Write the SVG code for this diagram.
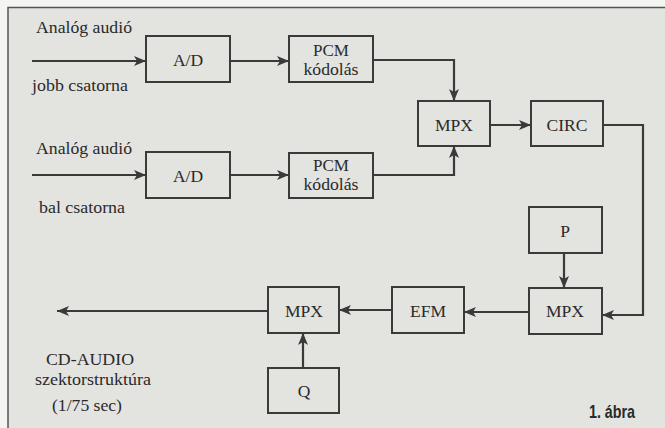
<svg xmlns="http://www.w3.org/2000/svg" width="665" height="428" viewBox="0 0 665 428">
<defs>
<marker id="ah" viewBox="0 0 12 10" refX="12" refY="5" markerWidth="12" markerHeight="10" markerUnits="userSpaceOnUse" orient="auto">
<path d="M0,0 L12,5 L0,10 L3,5 Z" fill="#3a3a3a"/>
</marker>
<style>
.bx{fill:none;stroke:#3a3a3a;stroke-width:2}
.ln{fill:none;stroke:#3a3a3a;stroke-width:2.2;marker-end:url(#ah)}
.t{font-family:"Liberation Serif","Times New Roman","DejaVu Serif",serif;font-size:17.5px;fill:#2a2a2a;text-anchor:middle}
.s{font-size:17px}
.cap{font-family:"Liberation Sans Narrow","Liberation Sans",Arial,sans-serif;font-weight:bold;font-size:18.5px;fill:#2a2a2a;text-anchor:middle}
</style>
</defs>
<rect x="0" y="0" width="665" height="428" fill="#f4f4f2"/>
<rect x="8" y="8" width="660" height="425" fill="#e3e3df"/>
<path d="M8,428 L8,7.5 L665,7.5" fill="none" stroke="#555" stroke-width="1.5"/>

<g id="lbl-in1" class="t">
<text x="84" y="33" textLength="96" lengthAdjust="spacingAndGlyphs">Analóg audió</text>
<text x="80" y="91" textLength="96" lengthAdjust="spacingAndGlyphs">jobb csatorna</text>
</g>
<g id="lbl-in2" class="t">
<text x="84" y="154" textLength="96" lengthAdjust="spacingAndGlyphs">Analóg audió</text>
<text x="82" y="213" textLength="86" lengthAdjust="spacingAndGlyphs">bal csatorna</text>
</g>
<g id="ad1" class="t"><rect class="bx" x="146" y="36" width="84" height="46"/><text x="188" y="66">A/D</text></g>
<g id="ad2" class="t"><rect class="bx" x="146" y="152" width="84" height="46"/><text x="188" y="182">A/D</text></g>
<g id="pcm1" class="t s"><rect class="bx" x="289" y="36" width="84" height="46"/><text x="331" y="56">PCM</text><text x="331" y="75" textLength="55" lengthAdjust="spacingAndGlyphs">kódolás</text></g>
<g id="pcm2" class="t s"><rect class="bx" x="289" y="153" width="84" height="45"/><text x="331" y="171">PCM</text><text x="331" y="190" textLength="55" lengthAdjust="spacingAndGlyphs">kódolás</text></g>
<g id="mpx1" class="t"><rect class="bx" x="418" y="101" width="72" height="45"/><text x="454" y="131">MPX</text></g>
<g id="circ" class="t"><rect class="bx" x="531" y="101" width="72" height="45"/><text x="567" y="131">CIRC</text></g>
<g id="p" class="t"><rect class="bx" x="529" y="207" width="73" height="46"/><text x="565" y="237">P</text></g>
<g id="mpx2" class="t"><rect class="bx" x="529" y="288" width="73" height="46"/><text x="565" y="317">MPX</text></g>
<g id="efm" class="t"><rect class="bx" x="392" y="287" width="72" height="46"/><text x="428" y="317">EFM</text></g>
<g id="mpx3" class="t"><rect class="bx" x="268" y="287" width="71" height="46"/><text x="304" y="317">MPX</text></g>
<g id="q" class="t"><rect class="bx" x="268" y="368" width="71" height="45"/><text x="304" y="397">Q</text></g>
<g id="lbl-out" class="t s">
<text x="90" y="365" textLength="88" lengthAdjust="spacingAndGlyphs">CD-AUDIO</text>
<text x="93" y="385" textLength="116" lengthAdjust="spacingAndGlyphs">szektorstruktúra</text>
<text x="87" y="411" textLength="70" lengthAdjust="spacingAndGlyphs">(1/75 sec)</text>
</g>
<g id="caption"><text class="cap" x="612" y="418" textLength="46" lengthAdjust="spacingAndGlyphs">1. ábra</text></g>

<g id="connectors">
<path class="ln" d="M32,61 L146,61"/>
<path class="ln" d="M32,175 L146,175"/>
<path class="ln" d="M230,61 L289,61"/>
<path class="ln" d="M230,175 L289,175"/>
<path class="ln" d="M373,60 L454,60 L454,101"/>
<path class="ln" d="M373,175 L454,175 L454,146"/>
<path class="ln" d="M490,125 L531,125"/>
<path class="ln" d="M603,125 L643,125 L643,315 L602,315"/>
<path class="ln" d="M564,253 L564,288"/>
<path class="ln" d="M529,312 L464,312"/>
<path class="ln" d="M392,310 L339,310"/>
<path class="ln" d="M268,311 L57,311"/>
<path class="ln" d="M303,368 L303,333"/>
</g>
</svg>
